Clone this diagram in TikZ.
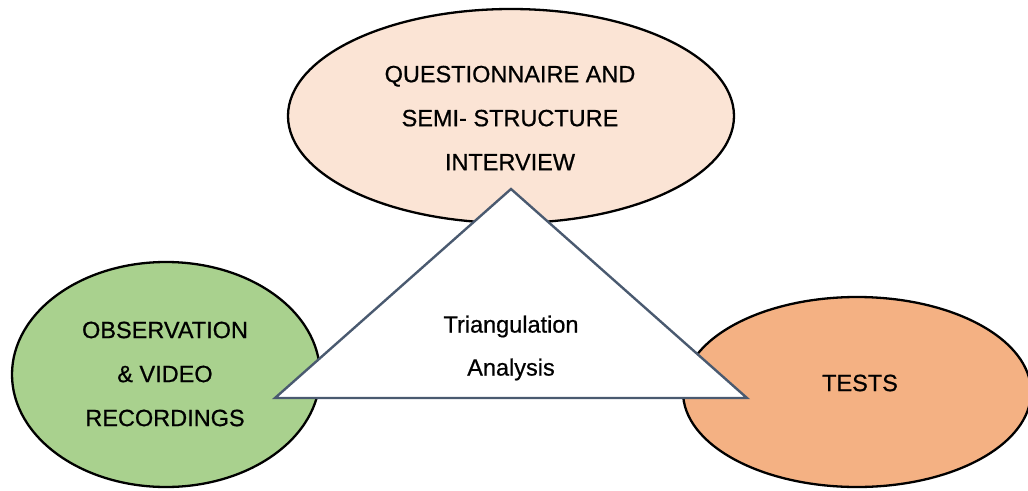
\documentclass[tikz,border=0pt]{standalone}
\usepackage{fontspec}
\setmainfont{Liberation Sans}
\newfontfamily\lblfont[UprightFeatures={FakeBold=0.7}]{Liberation Sans}
\usetikzlibrary{shapes.geometric}
\definecolor{peach}{HTML}{FBE4D5}
\definecolor{leaf}{HTML}{A9D18E}
\definecolor{apricot}{HTML}{F4B183}
\definecolor{slate}{HTML}{4A5A70}
\begin{document}
\begin{tikzpicture}[x=1pt,y=-1pt,
  oval/.style={ellipse, draw=black, line width=2.3pt, inner sep=0pt},
  lbl/.style={align=center, font=\lblfont\fontsize{23.5}{44}\selectfont, inner sep=0pt},
  tri/.style={draw=slate, fill=white, line width=2.4pt, line join=miter}]
\useasboundingbox (0,0) rectangle (1028,490);
\clip (0,0) rectangle (1028,490);
\node[oval, fill=peach, minimum width=446pt, minimum height=214pt] (top) at (511,116) {};
\node[oval, fill=leaf, minimum width=308pt, minimum height=225pt] (left) at (166,374.5) {};
\node[oval, fill=apricot, minimum width=348pt, minimum height=190pt] (right) at (857,392) {};
\coordinate (apex) at (511,189);
\coordinate (bl) at (275,398);
\coordinate (br) at (747,398);
\draw[tri] (apex) -- (bl) -- (br) -- cycle;
\node[lbl] (toptext) at (510,118) {QUESTIONNAIRE AND\\SEMI- STRUCTURE\\INTERVIEW};
\node[lbl] (lefttext) at (165,374) {OBSERVATION\\\& VIDEO\\RECORDINGS};
\node[lbl] (righttext) at (860,383) {TESTS};
\node[lbl, font=\lblfont\fontsize{23.5}{43}\selectfont] (tritext) at (511,348) {Triangulation\\Analysis};
\end{tikzpicture}
\end{document}
